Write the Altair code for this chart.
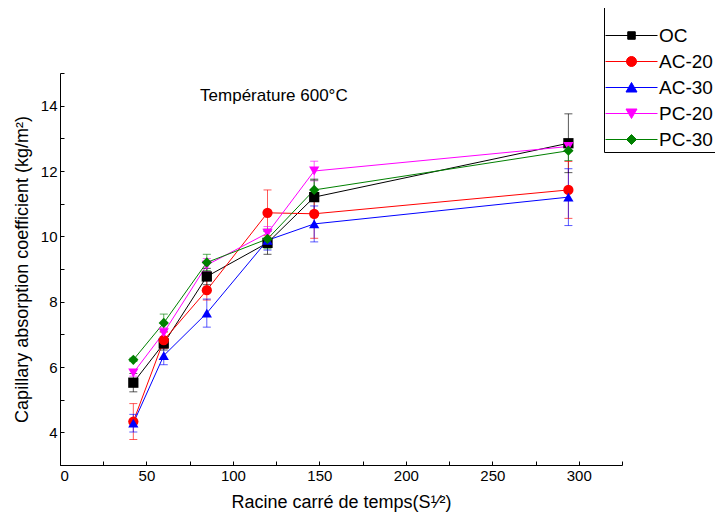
import altair as alt
import pandas as pd

# ---------------- data ----------------
x_vals = [42.4, 60.0, 84.9, 120.0, 147.0, 294.0]
series = ["OC", "AC-20", "AC-30", "PC-20", "PC-30"]
oc_vals = [5.52, 6.72, 8.77, 9.80, 11.20, 12.85]
oc_err = [0.28, 0.20, 0.25, 0.35, 0.55, 0.90]
ac20_vals = [4.33, 6.82, 8.35, 10.72, 10.69, 11.42]
ac20_err = [0.55, 0.25, 0.30, 0.70, 0.75, 0.87]
ac30_vals = [4.28, 6.35, 7.65, 9.88, 10.38, 11.20]
ac30_err = [0.27, 0.28, 0.43, 0.30, 0.55, 0.87]
pc20_vals = [5.82, 7.05, 9.12, 10.10, 12.00, 12.75]
pc20_err = [0.10, 0.15, 0.20, 0.20, 0.30, 0.15]
pc30_vals = [6.22, 7.35, 9.20, 9.92, 11.42, 12.62]
pc30_err = [0.05, 0.27, 0.25, 0.30, 0.30, 0.30]
x_ticks = [0, 50, 100, 150, 200, 250, 300]
y_ticks = [4, 6, 8, 10, 12, 14]
x_minor_ticks = [0, 25, 50, 75, 100, 125, 150, 175, 200, 225, 250, 275, 300, 325]
y_minor_ticks = [3, 4, 5, 6, 7, 8, 9, 10, 11, 12, 13, 14, 15]
annotation = ["Température 600°C"]
annotation_x = [81]
annotation_y = [14.3]

colors = ["#000000", "#ff0000", "#0000ff", "#ff00ff", "#008000"]
marker_shapes = ["square", "circle", "triangle-up", "triangle-down", "diamond"]
legend_paths = [
    "M-5.2,0H5.2M-0.75,-0.75H0.75V0.75H-0.75Z",
    "M-5.2,0H5.2M-1,0A1,1,0,1,1,1,0A1,1,0,1,1,-1,0Z",
    "M-5.2,0H5.2M0,-1L1.1,0.9H-1.1Z",
    "M-5.2,0H5.2M0,1L1.1,-0.9H-1.1Z",
    "M-5.2,0H5.2M0,-1L1,0L0,1L-1,0Z",
]

all_vals = [oc_vals, ac20_vals, ac30_vals, pc20_vals, pc30_vals]
all_err = [oc_err, ac20_err, ac30_err, pc20_err, pc30_err]

rows = []
for s, vs, es in zip(series, all_vals, all_err):
    for xv, yv, ev in zip(x_vals, vs, es):
        rows.append({"series": s, "x": xv, "y": yv, "lo": yv - ev, "hi": yv + ev})
df = pd.DataFrame(rows)
ann = pd.DataFrame({"x": annotation_x, "y": annotation_y, "text": annotation})

FONT = "Liberation Sans"
x_scale = alt.Scale(domain=[0, 325], nice=False, zero=False)
y_scale = alt.Scale(domain=[3, 15], nice=False, zero=False)

x_enc = alt.X(
    "x:Q",
    scale=x_scale,
    axis=alt.Axis(
        orient="bottom",
        values=x_ticks,
        title="Racine carré de temps(S¹⁄²)",
        grid=False,
        domainColor="black",
        ticks=False,
        labelFontSize=15,
        labelColor="black",
        labelFont=FONT,
        labelPadding=3,
        titleFontSize=18,
        titleFont=FONT,
        titleFontWeight="normal",
        titleColor="black",
        titlePadding=10,
    ),
)
y_enc = alt.Y(
    "y:Q",
    scale=y_scale,
    axis=alt.Axis(
        orient="left",
        values=y_ticks,
        title="Capillary absorption coefficient (kg/m²)",
        grid=False,
        domainColor="black",
        ticks=False,
        labelFontSize=15,
        labelColor="black",
        labelFont=FONT,
        labelPadding=3,
        titleFontSize=18,
        titleFont=FONT,
        titleFontWeight="normal",
        titleColor="black",
        titlePadding=9,
    ),
)
x_plain = alt.X("x:Q", scale=x_scale, axis=None)
y_plain = alt.Y("y:Q", scale=y_scale, axis=None)

legend_spec = alt.Legend(
    title="\u00a0" * 42,
    orient="none",
    legendX=544,
    legendY=-71,
    strokeColor="black",
    padding=2,
    titleFontSize=12,
    titlePadding=10,
    symbolSize=100,
    symbolStrokeWidth=1,
    symbolOpacity=1,
    symbolOffset=16,
    labelOffset=18,
    labelFontSize=19,
    labelFont=FONT,
    labelColor="black",
    rowPadding=6,
)
color_enc = alt.Color("series:N", scale=alt.Scale(domain=series, range=colors), legend=legend_spec)

base = alt.Chart(df)

lines = base.mark_line(strokeWidth=1).encode(x=x_enc, y=y_enc, color=color_enc, order="x:Q")
bars = base.mark_rule(strokeWidth=1, opacity=0.65).encode(
    x=x_plain, y=alt.Y("lo:Q", axis=None), y2="hi:Q", color=color_enc
)
caps_lo = base.mark_tick(orient="horizontal", size=8, thickness=1, opacity=0.65).encode(
    x=x_plain, y=alt.Y("lo:Q", axis=None), color=color_enc
)
caps_hi = base.mark_tick(orient="horizontal", size=8, thickness=1, opacity=0.65).encode(
    x=x_plain, y=alt.Y("hi:Q", axis=None), color=color_enc
)

point_layers = []
for s, shp in zip(series, marker_shapes):
    point_layers.append(
        base.transform_filter(alt.datum.series == s)
        .mark_point(filled=True, shape=shp, size=105, opacity=1)
        .encode(x=x_plain, y=y_plain, color=color_enc)
    )

legend_layer = (
    base.transform_filter("false")
    .mark_point(filled=True, opacity=1)
    .encode(
        x=x_plain,
        y=y_plain,
        color=color_enc,
        stroke=alt.Stroke("series:N", scale=alt.Scale(domain=series, range=colors), legend=legend_spec),
        shape=alt.Shape("series:N", scale=alt.Scale(domain=series, range=legend_paths), legend=legend_spec),
    )
)

# inward-pointing tick marks (axes placed on the opposite side and shifted onto the frame)
tick_layer = (
    base.transform_filter("false")
    .mark_point(opacity=0)
    .encode(
        x=alt.X(
            "x:Q",
            scale=x_scale,
            axis=alt.Axis(
                orient="top", offset=-392, values=x_minor_ticks, labels=False, domain=False,
                ticks=True, tickSize=4, tickColor="black", grid=False, title=None,
            ),
        ),
        y=alt.Y(
            "y:Q",
            scale=y_scale,
            axis=alt.Axis(
                orient="right", offset=-562, values=y_minor_ticks, labels=False, domain=False,
                ticks=True, tickSize=4, tickColor="black", grid=False, title=None,
            ),
        ),
    )
)

text = alt.Chart(ann).mark_text(
    align="left", baseline="middle", fontSize=17, font=FONT, color="black"
).encode(x=x_plain, y=y_plain, text="text:N")

chart = (
    alt.layer(lines, bars, caps_lo, caps_hi, *point_layers, legend_layer, tick_layer, text)
    .resolve_axis(x="independent", y="independent")
    .properties(
        width=562,
        height=392,
        autosize=alt.AutoSizeParams(type="none"),
        padding={"left": 52, "top": 65, "right": 93, "bottom": 48},
    )
    .configure_view(stroke=None)
)

chart.save("out.html", embed_options={"renderer": "svg", "actions": False})
